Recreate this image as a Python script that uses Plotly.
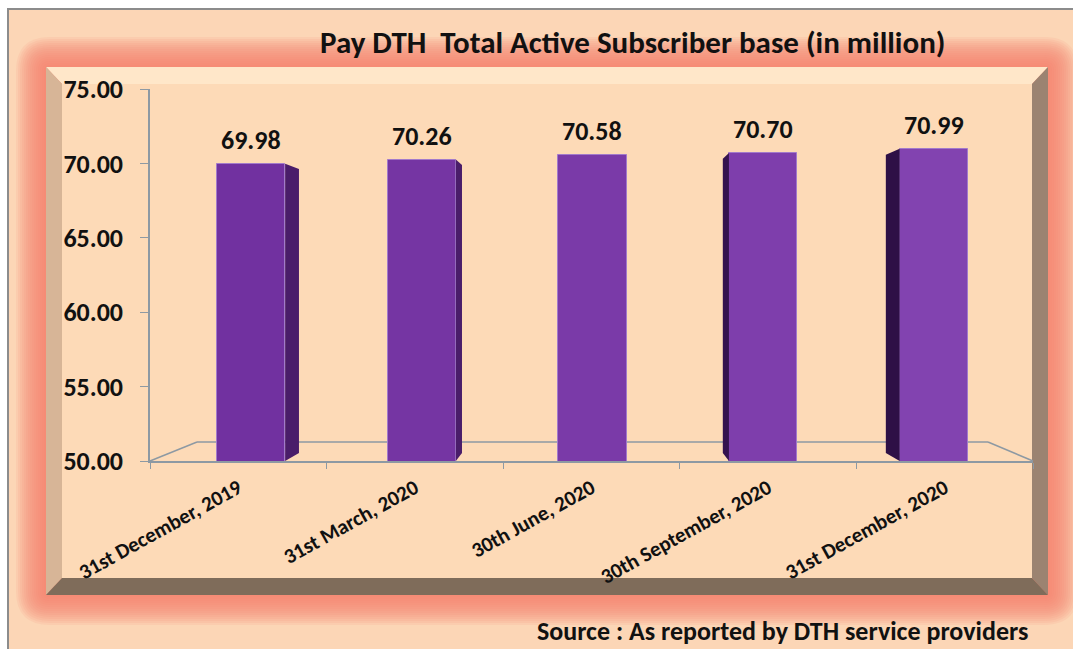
import plotly.graph_objects as go

# ---- data -------------------------------------------------------------
categories = [
    "31st December, 2019",
    "31st March, 2020",
    "30th June, 2020",
    "30th September, 2020",
    "31st December, 2020",
]
subscribers = [69.98, 70.26, 70.58, 70.70, 70.99]
y_ticks = [50, 55, 60, 65, 70, 75]

title_text = "Pay DTH\u00a0 Total Active Subscriber base (in million)"
source_text = "Source : As reported by DTH service providers"

# ---- styling ----------------------------------------------------------
W, H = 1073, 649
FONT = "Calibri, Carlito, Lato, sans-serif"
front_colors = ["#7131A0", "#7535A3", "#7A3AA8", "#7E3EAC", "#8243B0"]
side_colors = ["#4A1D6A", "#4A1D6A", "#3A1656", "#35124F", "#2E1046"]
AXIS_GREY = "#8D99A3"


def X(px):
    return px / W


def Y(py):
    return 1 - py / H


def poly(points):
    d = "M " + " L ".join(f"{X(a):.5f},{Y(b):.5f}" for a, b in points) + " Z"
    return d


def rounded(x0, y0, x1, y1, r):
    p = [
        f"M {X(x0 + r):.5f},{Y(y0):.5f}",
        f"L {X(x1 - r):.5f},{Y(y0):.5f}",
        f"Q {X(x1):.5f},{Y(y0):.5f} {X(x1):.5f},{Y(y0 + r):.5f}",
        f"L {X(x1):.5f},{Y(y1 - r):.5f}",
        f"Q {X(x1):.5f},{Y(y1):.5f} {X(x1 - r):.5f},{Y(y1):.5f}",
        f"L {X(x0 + r):.5f},{Y(y1):.5f}",
        f"Q {X(x0):.5f},{Y(y1):.5f} {X(x0):.5f},{Y(y1 - r):.5f}",
        f"L {X(x0):.5f},{Y(y0 + r):.5f}",
        f"Q {X(x0):.5f},{Y(y0):.5f} {X(x0 + r):.5f},{Y(y0):.5f}",
        "Z",
    ]
    return " ".join(p)


shapes = []
# outer frame
shapes.append(dict(type="rect", xref="paper", yref="paper",
                   x0=X(8), y0=Y(700), x1=X(1100), y1=Y(9),
                   fillcolor="#FCD6B6", line=dict(color="#8C8C8C", width=2),
                   layer="below"))

# soft salmon glow around the panel
OX0, OY0, OX1, OY1 = 46, 67, 1048, 595
for e in range(30, 0, -2):
    shapes.append(dict(type="path", xref="paper", yref="paper",
                       path=rounded(OX0 - e, OY0 - e, OX1 + e, OY1 + e, e + 4),
                       fillcolor="#F2846E", opacity=0.11, line=dict(width=0),
                       layer="below"))

# bevelled panel
IX0, IY0, IX1, IY1 = 62, 84, 1032, 578
bevel = [
    ([(OX0, OY0), (OX1, OY0), (IX1, IY0), (IX0, IY0)], "#FFE7C9"),
    ([(OX0, OY0), (IX0, IY0), (IX0, IY1), (OX0, OY1)], "#D7B597"),
    ([(OX1, OY0), (OX1, OY1), (IX1, IY1), (IX1, IY0)], "#9B8371"),
    ([(OX0, OY1), (OX1, OY1), (IX1, IY1), (IX0, IY1)], "#7F6C5A"),
]
for pts, col in bevel:
    shapes.append(dict(type="path", xref="paper", yref="paper", path=poly(pts),
                       fillcolor=col, line=dict(width=0), layer="below"))
shapes.append(dict(type="rect", xref="paper", yref="paper",
                   x0=X(IX0), y0=Y(IY1), x1=X(IX1), y1=Y(IY0),
                   fillcolor="#FDDAB7", line=dict(width=0), layer="below"))

# floor of the 3-D plot area
for (a, b), (c, d) in [((150, 461), (197, 442)), ((197, 442), (988, 442)),
                       ((988, 442), (1033, 461))]:
    shapes.append(dict(type="line", xref="paper", yref="paper",
                       x0=X(a), y0=Y(b), x1=X(c), y1=Y(d),
                       line=dict(color=AXIS_GREY, width=1.5), layer="below"))

fig = go.Figure()

# front faces of the bars
xs = list(range(len(categories)))
BAR_W = 0.40
fig.add_trace(go.Bar(
    x=xs, y=subscribers, width=BAR_W,
    marker=dict(color=front_colors, line=dict(color="#A27ACB", width=1)),
    xaxis="x", yaxis="y", showlegend=False, hoverinfo="skip",
))

# perspective side faces, derived from each bar's value
VX, VY, T = 2.0, 62.0, 0.045
for i, v in enumerate(subscribers):
    if i == 2:
        continue
    edge = i + BAR_W / 2 if i < 2 else i - BAR_W / 2
    far = edge + T * (VX - edge)
    px_ = [edge, far, far, edge, edge]
    py_ = [v, v + T * (VY - v), 50 + T * (VY - 50), 50, v]
    fig.add_trace(go.Scatter(
        x=px_, y=py_, mode="lines", fill="toself", fillcolor=side_colors[i],
        line=dict(width=0), xaxis="x", yaxis="y", showlegend=False,
        hoverinfo="skip",
    ))

# invisible trace carrying the category axis
fig.add_trace(go.Scatter(x=categories, y=[None] * len(categories),
                         xaxis="x2", yaxis="y", mode="markers",
                         showlegend=False, hoverinfo="skip"))

annotations = []
for i, v in enumerate(subscribers):
    annotations.append(dict(
        x=i, y=v, xref="x", yref="y", text=f"{v:.2f}", showarrow=False,
        yanchor="middle", yshift=24,
        font=dict(family=FONT, size=26, color="#111111", weight="bold"),
    ))
annotations.append(dict(
    x=X(632), y=Y(42), xref="paper", yref="paper", text=title_text,
    showarrow=False, xanchor="center", yanchor="middle",
    font=dict(family=FONT, size=31, color="#111111", weight="bold"),
))
annotations.append(dict(
    x=X(782), y=Y(631), xref="paper", yref="paper", text=source_text,
    showarrow=False, xanchor="center", yanchor="middle",
    font=dict(family=FONT, size=26, color="#111111", weight="bold"),
))

dom_x = [X(150), X(1033)]
px_per_unit = 170.7
r0 = -(251 - 150) / px_per_unit
r1 = r0 + (1033 - 150) / px_per_unit

fig.update_layout(
    width=W, height=H,
    margin=dict(l=0, r=0, t=0, b=0, autoexpand=False),
    paper_bgcolor="white", plot_bgcolor="rgba(0,0,0,0)",
    shapes=shapes, annotations=annotations,
    bargap=0,
    xaxis=dict(domain=dom_x, range=[r0, r1], visible=False, fixedrange=True,
               automargin=False),
    xaxis2=dict(
        domain=dom_x, overlaying="x", anchor="y", side="bottom",
        type="category", categoryorder="array", categoryarray=categories,
        range=[-0.5, 4.5], tickson="boundaries", ticks="outside",
        ticklen=6, tickcolor=AXIS_GREY, showline=True, linecolor=AXIS_GREY,
        linewidth=1.5, showgrid=False, tickangle=-29, ticklabelstandoff=5,
        automargin=False,
        tickfont=dict(family=FONT, size=21, color="#111111", weight="bold"),
    ),
    yaxis=dict(
        domain=[Y(461), Y(89)], range=[50, 75], tickvals=y_ticks,
        tickformat=".2f", ticks="outside", ticklen=8, tickcolor=AXIS_GREY,
        showline=True, linecolor=AXIS_GREY, linewidth=1.5, showgrid=False,
        zeroline=False, ticklabelstandoff=12, automargin=False,
        tickfont=dict(family=FONT, size=26, color="#111111", weight="bold"),
    ),
)

fig.write_html("out.html")
